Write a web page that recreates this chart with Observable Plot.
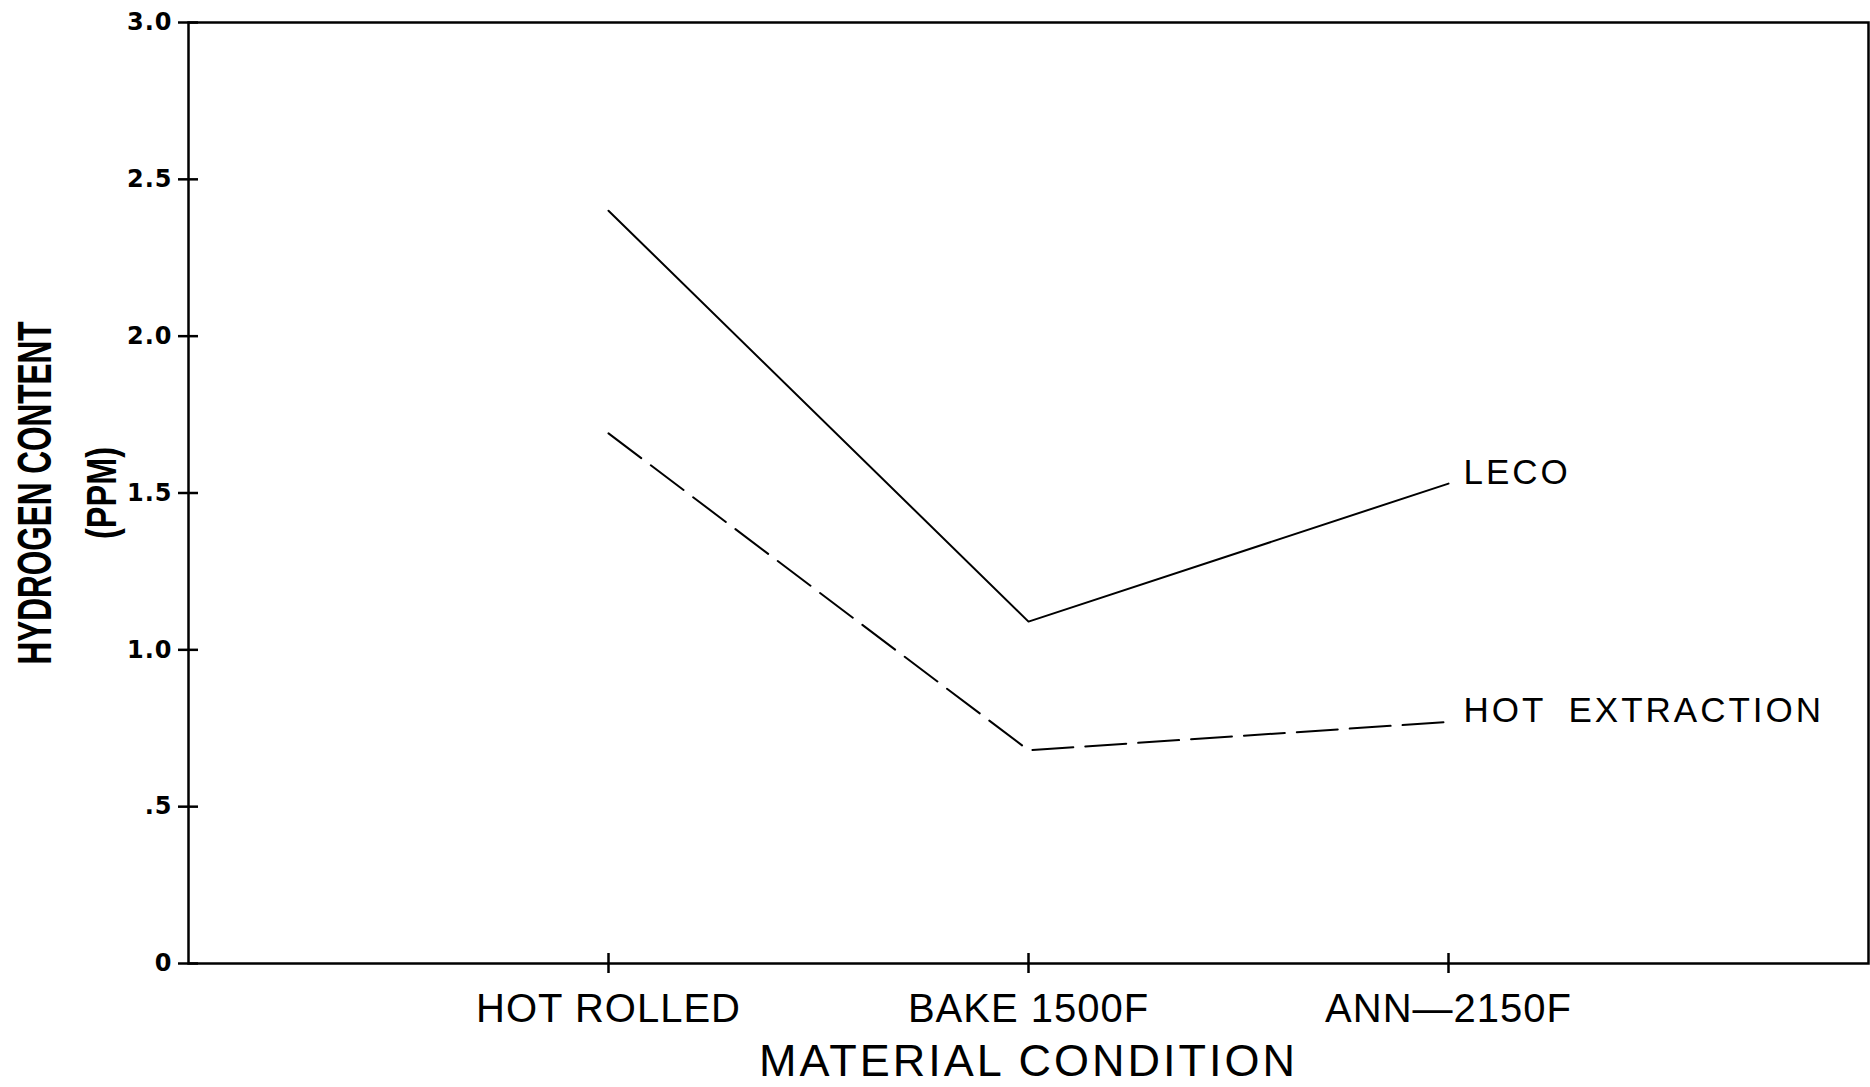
<!DOCTYPE html>
<html><head><meta charset="utf-8">
<script src="https://cdn.jsdelivr.net/npm/d3@7"></script>
<script src="https://cdn.jsdelivr.net/npm/@observablehq/plot@0.6"></script>
<style>body{margin:0;background:#fff}</style>
</head><body><div id="chart"></div>
<script>
const categories = ["HOT ROLLED", "BAKE 1500F", "ANN—2150F"];
const leco = [2.40, 1.09, 1.53];
const hotExtraction = [1.69, 0.68, 0.77];
const seriesNames = ["LECO", "HOT EXTRACTION"];
const yTicks = [0, 0.5, 1, 1.5, 2, 2.5, 3];
const yTickLabels = ["0", ".5", "1.0", "1.5", "2.0", "2.5", "3.0"];
const yTitle = ["HYDROGEN CONTENT", "(PPM)"];
const xTitle = "MATERIAL CONDITION";

// category positions on the x axis (1..n inside a 0..n+1 domain)
const catPos = categories.map((c, i) => i + 1);

const rows = [];
categories.forEach((c, i) => {
  rows.push({series: seriesNames[0], cond: c, pos: catPos[i], value: leco[i]});
  rows.push({series: seriesNames[1], cond: c, pos: catPos[i], value: hotExtraction[i]});
});
const lecoRows = rows.filter(d => d.series === seriesNames[0]);
const heRows = rows.filter(d => d.series === seriesNames[1]);
const lastRows = [lecoRows[lecoRows.length - 1], heRows[heRows.length - 1]];

const plot = Plot.plot({
  width: 1870, height: 1087,
  marginLeft: 188, marginRight: 2, marginTop: 22, marginBottom: 124,
  style: {fontFamily: "'Liberation Sans', Arial, sans-serif", background: "#fff", color: "#000", overflow: "visible"},
  x: {domain: [0, categories.length + 1]},
  y: {domain: [0, 3]},
  marks: [
    Plot.frame({stroke: "#000", strokeWidth: 2.5}),
    // cross-shaped tick marks straddling the axes
    Plot.ruleY(yTicks, {y: d => d, x1: 0, x2: 0, insetLeft: -10, insetRight: -10, stroke: "#000", strokeWidth: 2.5}),
    Plot.ruleX(catPos, {x: d => d, y1: 0, y2: 0, insetTop: -10, insetBottom: -10, stroke: "#000", strokeWidth: 2.5}),
    Plot.axisY({ticks: yTicks, tickFormat: d => yTickLabels[yTicks.indexOf(d)], tickSize: 0, tickPadding: 16,
      fontSize: 24, fontWeight: "bold", fontFamily: "'DejaVu Sans'", label: null}),
    Plot.axisX({ticks: catPos, tickFormat: d => categories[d - 1], tickSize: 0, tickPadding: 30, fontSize: 40, label: null}),
    Plot.line(lecoRows, {x: "pos", y: "value", stroke: "#000", strokeWidth: 2}),
    Plot.line(heRows, {x: "pos", y: "value", stroke: "#000", strokeWidth: 2, strokeDasharray: "41,12"}),
    Plot.text(lastRows, {x: "pos", y: "value", text: "series", textAnchor: "start", dx: 15, dy: -11, fontSize: 35}),
    Plot.text([yTitle[0]], {frameAnchor: "left", textAnchor: "middle", lineAnchor: "middle", rotate: -90, dx: -153, fontSize: 48, fontWeight: "bold"}),
    Plot.text([yTitle[1]], {frameAnchor: "left", textAnchor: "middle", lineAnchor: "middle", rotate: -90, dx: -86, fontSize: 42, fontWeight: "bold"}),
    Plot.text([xTitle], {frameAnchor: "bottom", dy: 112, fontSize: 45})
  ]
});
document.getElementById("chart").appendChild(plot);

function squeeze(t, target) {
  const L = t.getComputedTextLength();
  const s = target / L;
  const tr = t.getAttribute("transform");
  if (tr) t.setAttribute("transform", tr + ` scale(${s},1)`);
  else { t.setAttribute("textLength", target); t.setAttribute("lengthAdjust", "spacingAndGlyphs"); }
}

plot.querySelectorAll("text").forEach(t => {
  const s = t.textContent;
  if (s === yTitle[0]) squeeze(t, 343);
  else if (s === yTitle[1]) squeeze(t, 92);
  else if (s === xTitle) t.style.letterSpacing = "3px";
  else if (s === seriesNames[1]) { t.style.letterSpacing = "3px"; t.style.wordSpacing = "10px"; }
  else if (s === seriesNames[0]) t.style.letterSpacing = "3px";
  else if (yTickLabels.includes(s)) { t.style.letterSpacing = "1px"; t.style.fontWeight = "bold"; t.style.fontSize = "24px"; t.style.fontFamily = "'DejaVu Sans'"; }
  else if (categories.includes(s)) t.style.letterSpacing = "1px";
});
</script>
</body></html>
